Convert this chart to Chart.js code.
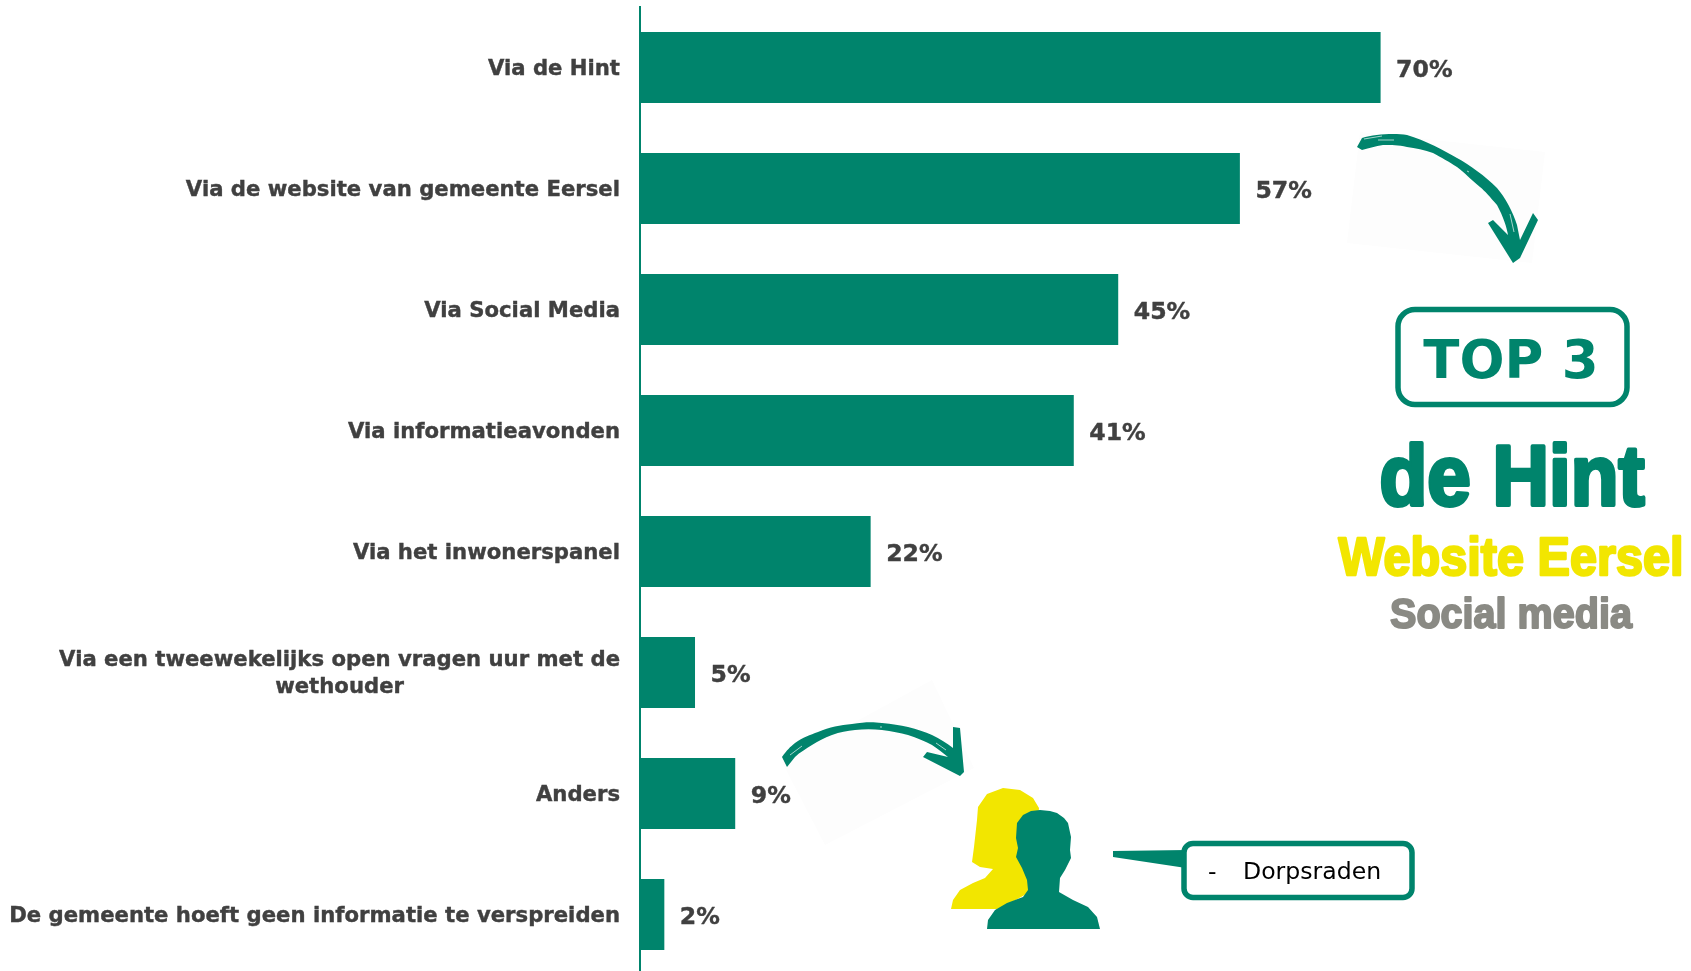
<!DOCTYPE html>
<html><head><meta charset="utf-8">
<style>html,body{margin:0;padding:0;background:#fff;width:1691px;height:971px;overflow:hidden}canvas{display:block}</style>
<script src="https://cdn.jsdelivr.net/npm/chart.js@4"></script>
</head><body><canvas id="c" width="1698" height="975"></canvas>
<script>
const categories = ["Via de Hint","Via de website van gemeente Eersel","Via Social Media","Via informatieavonden","Via het inwonerspanel",["Via een tweewekelijks open vragen uur met de","wethouder"],"Anders","De gemeente hoeft geen informatie te verspreiden"];
const values = [70,56.7,45.2,41,21.8,5.2,9,2.3];
const valueLabels = ["70%","57%","45%","41%","22%","5%","9%","2%"];

const GREEN="#00846c", YELLOW="#f2e600", GREY="#8a8a84", TEXT="#404040";
const faint1=[[1360,132],[1545,152],[1532,263],[1347,243]];
const faint2=[[932,680],[974,768],[825,845],[782,762]];
const arrow1="M1357 147 L1362 138 C1375 134 1395 133 1407 135 C1425 140 1445 151 1457 158 C1470 165 1485 176 1497 188 C1505 197 1513 212 1517 225 L1520 240 L1533 213 L1538 220 L1520 258 L1513 263 L1488 223 L1493 220 L1508 235 C1507 228 1503 216 1497 205 C1490 197 1485 191 1480 187 C1470 179 1465 173 1457 167 C1448 161 1442 158 1433 153 C1425 150 1415 148 1407 147 C1398 145 1392 145 1383 145 C1375 146 1370 148 1362 150Z";
const arrow2="M787 767 L782 757 C787 750 790 747 795 743 C803 737 810 735 818 732 C830 727 840 725 852 724 C865 722 872 722 882 723 C892 724 900 725 908 727 C917 729 925 732 932 735 C940 739 947 743 953 748 L953 727 L960 728 L964 772 L960 776 L923 757 L927 752 L948 757 C943 753 938 749 932 745 C925 741 917 738 908 735 C900 733 892 731 882 730 C873 729 864 729 855 730 C847 731 840 732 832 735 C824 738 818 741 812 745 C806 749 800 752 795 757Z";
const streaks=[[[1364,139],[1382,136]],[[1378,140],[1394,140]],[[1467,171],[1469,172]],[[1510,214],[1514,232]],[[790,755],[802,746]],[[880,727],[882,727]],[[936,743],[946,750]]];
const womanShape=[[951,909],[953,900],[960,890],[973,883],[985,878],[993,869],[980,867],[972,862],[974,847],[977,820],[978,807],[987,794],[1003,788],[1020,790],[1033,798],[1039,808],[1035,850],[1028,893],[1007,905],[997,909]];
const manShape=[[987,929],[988,920],[995,910],[1007,903],[1023,897],[1028,890],[1027,880],[1022,868],[1016,857],[1018,848],[1016,838],[1017,823],[1023,815],[1031,811],[1040,810],[1050,811],[1057,813],[1064,818],[1068,823],[1071,837],[1070,850],[1071,858],[1065,870],[1060,878],[1059,892],[1073,900],[1088,907],[1097,917],[1100,929]];
const pointer=[[1187,850],[1113,851],[1113,857],[1186,868]];

function poly(ctx,pts,fill){ctx.beginPath();pts.forEach((p,i)=>i?ctx.lineTo(p[0],p[1]):ctx.moveTo(p[0],p[1]));ctx.closePath();ctx.fillStyle=fill;ctx.fill();}
function txt(ctx,s,x,y,font,color,align,fat,sx,base){ctx.save();ctx.translate(x,y);ctx.scale(sx||1,1);ctx.font=font;ctx.fillStyle=color;ctx.textAlign=align||"left";ctx.textBaseline=base||"alphabetic";
  if(fat){ctx.strokeStyle=color;ctx.lineWidth=fat;ctx.lineJoin="round";ctx.strokeText(s,0,0);} ctx.fillText(s,0,0);ctx.restore();}

const overlay={id:"overlay",
 beforeDatasetsDraw(chart){const ctx=chart.ctx;ctx.save();poly(ctx,faint1,"#fdfdfd");poly(ctx,faint2,"#fdfdfd");ctx.restore();},
 afterDatasetsDraw(chart){const ctx=chart.ctx;ctx.save();
  chart.getDatasetMeta(0).data.forEach((b,i)=>{txt(ctx,valueLabels[i],b.x+15.5,b.y+9,"bold 23.6px 'DejaVu Sans'",TEXT,"left",0.4);});
  const yS=chart.scales.y;
  categories.forEach((c,i)=>{if(!Array.isArray(c))return;
    const f="bold 21.2px 'DejaVu Sans'";ctx.font=f;const w=ctx.measureText(c[0]).width;const yc=yS.getPixelForValue(i);
    txt(ctx,c[0],620,yc-12.5,f,TEXT,"right",0.4,1,"middle");
    txt(ctx,c[1],620-w/2,yc+14.5,f,TEXT,"center",0.4,1,"middle");});
  ctx.fillStyle=GREEN;ctx.fill(new Path2D(arrow1));ctx.fill(new Path2D(arrow2));
  ctx.strokeStyle="rgba(255,255,255,0.65)";ctx.lineWidth=1;streaks.forEach(s=>{ctx.beginPath();ctx.moveTo(s[0][0],s[0][1]);ctx.lineTo(s[1][0],s[1][1]);ctx.stroke();});
  poly(ctx,womanShape,YELLOW);poly(ctx,manShape,GREEN);
  ctx.strokeStyle=GREEN;ctx.lineWidth=5.5;ctx.beginPath();ctx.roundRect(1398,309.5,229,95,17);ctx.stroke();
  txt(ctx,"TOP 3",1511,378,"bold 53px 'DejaVu Sans'",GREEN,"center");
  txt(ctx,"de Hint",1512,505,"bold 85px 'Liberation Sans'",GREEN,"center",4,0.92);
  txt(ctx,"Website Eersel",1511,575,"bold 54px 'Liberation Sans'",YELLOW,"center",2.5,0.9);
  txt(ctx,"Social media",1511,628,"bold 43px 'Liberation Sans'",GREY,"center",2,0.92);
  poly(ctx,pointer,GREEN);
  ctx.strokeStyle=GREEN;ctx.lineWidth=5.5;ctx.beginPath();ctx.roundRect(1184,843.5,228,54,9);ctx.fillStyle="#fff";ctx.fill();ctx.stroke();
  txt(ctx,"-",1208,879,"23.6px 'DejaVu Sans'","#000","left");
  txt(ctx,"Dorpsraden",1243,879,"23.6px 'DejaVu Sans'","#000","left");
  ctx.restore();}};

new Chart(document.getElementById("c"),{type:"bar",
 data:{labels:categories,datasets:[{data:values,backgroundColor:GREEN,borderWidth:0,categoryPercentage:1,barPercentage:0.587}]},
 plugins:[overlay],
 options:{indexAxis:"y",responsive:false,animation:false,
  layout:{padding:{top:7,left:0,right:0,bottom:0}},
  plugins:{legend:{display:false},tooltip:{enabled:false},title:{display:false}},
  scales:{
   x:{display:false,min:0,max:100},
   y:{afterFit(s){s.width=640;s.paddingTop=0;s.paddingBottom=0;},grid:{display:false,drawTicks:false},border:{display:true,color:GREEN,width:2},
      ticks:{color:TEXT,padding:20,autoSkip:false,labelOffset:2,textStrokeColor:TEXT,textStrokeWidth:0.4,
        callback:(v,i)=>Array.isArray(categories[i])?"":categories[i],
        font:{family:"'DejaVu Sans'",weight:"bold",size:21.2}}}
  }}});
</script></body></html>
